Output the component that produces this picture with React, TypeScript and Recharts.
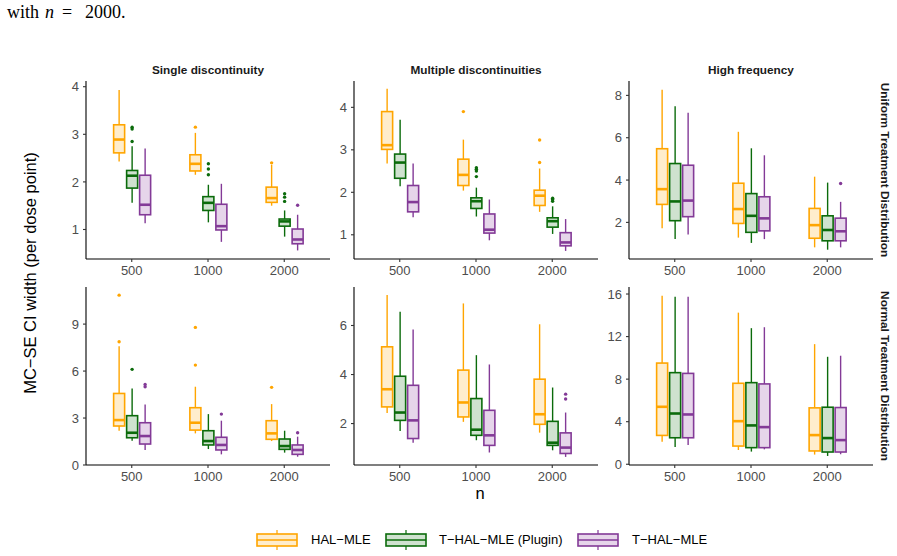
import React from 'react';
import { ComposedChart, Bar, XAxis, YAxis } from 'recharts';

// ---------- data ----------
const nLabels = ['500', '1000', '2000'];
const methodNames = ['HAL\u2212MLE', 'T\u2212HAL\u2212MLE (Plugin)', 'T\u2212HAL\u2212MLE'];
const facetTitles = ['Single discontinuity', 'Multiple discontinuities', 'High frequency'];
const rowTitles = ['Uniform Treatment Distribution', 'Normal Treatment Distribution'];

// each box: [lower whisker, q1, median, q3, upper whisker], per n
const singleUniformHAL = [[2.43, 2.61, 2.89, 3.2, 3.93], [2.15, 2.23, 2.38, 2.57, 3.03], [1.5, 1.57, 1.66, 1.89, 2.36]];
const singleUniformTP = [[1.56, 1.87, 2.13, 2.24, 2.75], [1.15, 1.4, 1.56, 1.69, 1.94], [0.85, 1.07, 1.17, 1.22, 1.4]];
const singleUniformT = [[1.13, 1.31, 1.52, 2.14, 2.7], [0.74, 0.99, 1.07, 1.53, 1.96], [0.56, 0.7, 0.79, 1.01, 1.31]];
const singleUniformHALOut = [[], [3.15], [2.4]];
const singleUniformTPOut = [[2.85, 3.11, 3.15], [2.15, 2.27, 2.38], [1.59, 1.68, 1.75]];
const singleUniformTOut = [[], [], [1.51]];

const multiUniformHAL = [[2.68, 3.01, 3.11, 3.9, 4.44], [2.04, 2.16, 2.41, 2.78, 3.24], [1.54, 1.69, 1.92, 2.05, 2.56]];
const multiUniformTP = [[2.14, 2.33, 2.7, 2.9, 3.71], [1.43, 1.62, 1.79, 1.87, 2.11], [1.02, 1.18, 1.32, 1.4, 1.67]];
const multiUniformT = [[1.41, 1.54, 1.77, 2.16, 2.68], [0.87, 1.04, 1.12, 1.49, 1.83], [0.62, 0.74, 0.82, 1.05, 1.37]];
const multiUniformHALOut = [[], [3.9], [2.7, 3.23]];
const multiUniformTPOut = [[], [2.37, 2.5, 2.54, 2.58], [1.79, 1.83, 1.86]];
const multiUniformTOut = [[], [], []];

const highUniformHAL = [[1.72, 2.85, 3.57, 5.48, 8.27], [1.28, 1.95, 2.63, 3.85, 6.28], [0.82, 1.25, 1.87, 2.66, 4.16]];
const highUniformTP = [[1.21, 2.08, 2.99, 4.78, 7.49], [1.03, 1.53, 2.31, 3.36, 5.5], [0.71, 1.13, 1.64, 2.31, 3.88]];
const highUniformT = [[1.43, 2.27, 3.03, 4.7, 7.18], [1.21, 1.6, 2.19, 3.21, 5.17], [0.82, 1.13, 1.58, 2.2, 2.97]];
const highUniformHALOut = [[], [], []];
const highUniformTPOut = [[], [], []];
const highUniformTOut = [[], [], [3.84]];

const singleNormalHAL = [[2.19, 2.49, 2.87, 4.57, 7.59], [2.02, 2.23, 2.7, 3.66, 5.0], [1.53, 1.64, 2.02, 2.83, 3.89]];
const singleNormalTP = [[1.55, 1.74, 2.06, 3.15, 4.89], [1.02, 1.28, 1.53, 2.19, 3.25], [0.79, 1.0, 1.21, 1.66, 2.19]];
const singleNormalT = [[0.96, 1.34, 1.85, 2.7, 3.87], [0.68, 0.96, 1.28, 1.77, 2.83], [0.53, 0.68, 0.96, 1.28, 1.81]];
const singleNormalHALOut = [[7.87, 10.85], [6.38, 8.79], [4.96]];
const singleNormalTPOut = [[6.11], [], []];
const singleNormalTOut = [[5.0, 5.15], [3.25], [2.06]];

const multiNormalHAL = [[2.43, 2.68, 3.4, 5.13, 7.24], [2.07, 2.27, 2.86, 4.18, 6.9], [1.63, 1.97, 2.38, 3.81, 6.05]];
const multiNormalTP = [[1.7, 2.13, 2.45, 3.93, 6.56], [1.32, 1.52, 1.75, 3.02, 4.79], [0.91, 1.11, 1.22, 2.09, 3.47]];
const multiNormalT = [[1.22, 1.39, 2.13, 3.56, 5.84], [0.82, 1.11, 1.52, 2.54, 4.41], [0.64, 0.78, 1.02, 1.62, 2.45]];
const multiNormalHALOut = [[], [], []];
const multiNormalTPOut = [[], [], []];
const multiNormalTOut = [[], [], [3.0, 3.2]];

const highNormalHAL = [[2.12, 2.71, 5.4, 9.51, 15.84], [1.34, 1.71, 4.05, 7.61, 14.25], [0.91, 1.25, 2.74, 5.3, 11.29]];
const highNormalTP = [[1.62, 2.49, 4.77, 8.61, 15.75], [1.19, 1.56, 3.65, 7.67, 12.79], [0.78, 1.15, 2.46, 5.36, 10.1]];
const highNormalT = [[1.81, 2.49, 4.68, 8.54, 15.75], [1.4, 1.56, 3.49, 7.55, 12.88], [0.94, 1.15, 2.27, 5.33, 10.2]];
const highNormalHALOut = [[], [], []];
const highNormalTPOut = [[], [], []];
const highNormalTOut = [[], [], []];

const yTicks = [
  [[1, 2, 3, 4], [1, 2, 3, 4], [2, 4, 6, 8]],
  [[0, 3, 6, 9], [2, 4, 6], [0, 4, 8, 12, 16]],
];
const yDomains = [
  [[0.38, 4.12], [0.43, 4.62], [0.27, 8.68]],
  [[0.0, 11.37], [0.31, 7.57], [-0.07, 16.66]],
];

// ---------- style ----------
const strokeColors = ['#FFA500', '#0B6B0B', '#833A97'];
const fillColors = ['#FFEDCC', '#CFE2CF', '#E6D5EA'];
const FONT = '"Liberation Sans", Arial, Helvetica, sans-serif';
const SERIF = '"Liberation Serif", "DejaVu Serif", serif';

const panelLeft = [86, 354, 629];
const panelTop = [81, 287];
const PW = 244;
const PH = 178;

const panelStats = [
  [
    [singleUniformHAL, singleUniformTP, singleUniformT],
    [multiUniformHAL, multiUniformTP, multiUniformT],
    [highUniformHAL, highUniformTP, highUniformT],
  ],
  [
    [singleNormalHAL, singleNormalTP, singleNormalT],
    [multiNormalHAL, multiNormalTP, multiNormalT],
    [highNormalHAL, highNormalTP, highNormalT],
  ],
];
const panelOuts = [
  [
    [singleUniformHALOut, singleUniformTPOut, singleUniformTOut],
    [multiUniformHALOut, multiUniformTPOut, multiUniformTOut],
    [highUniformHALOut, highUniformTPOut, highUniformTOut],
  ],
  [
    [singleNormalHALOut, singleNormalTPOut, singleNormalTOut],
    [multiNormalHALOut, multiNormalTPOut, multiNormalTOut],
    [highNormalHALOut, highNormalTPOut, highNormalTOut],
  ],
];

const makeShape = (m: number) => (props: any) => {
  const { x, y, width, height, payload } = props;
  if (!payload) return null;
  const s: number[] = payload['s' + m];
  const o: number[] = payload['o' + m] || [];
  const top = Math.min(y, y + height);
  const bot = Math.max(y, y + height);
  const span = s[4] - s[0];
  const py = (v: number) => top + ((s[4] - v) / span) * (bot - top);
  const cx = x + width / 2;
  const col = strokeColors[m];
  return (
    <g>
      <line x1={cx} x2={cx} y1={py(s[4])} y2={py(s[3])} stroke={col} strokeWidth={1.4} />
      <line x1={cx} x2={cx} y1={py(s[1])} y2={py(s[0])} stroke={col} strokeWidth={1.4} />
      <rect
        x={x}
        y={py(s[3])}
        width={width}
        height={py(s[1]) - py(s[3])}
        fill={fillColors[m]}
        stroke={col}
        strokeWidth={1.6}
      />
      <line x1={x} x2={x + width} y1={py(s[2])} y2={py(s[2])} stroke={col} strokeWidth={2.6} />
      {o.map((v, i) => (
        <circle key={i} cx={cx} cy={py(v)} r={1.7} fill={col} />
      ))}
    </g>
  );
};

const shapes = [makeShape(0), makeShape(1), makeShape(2)];

function Panel({ r, c }: { r: number; c: number }) {
  const stats = panelStats[r][c];
  const outs = panelOuts[r][c];
  const rows = nLabels.map((n, i) => ({
    n,
    s0: stats[0][i],
    s1: stats[1][i],
    s2: stats[2][i],
    o0: outs[0][i],
    o1: outs[1][i],
    o2: outs[2][i],
  }));
  const YW = 44;
  const MT = 6;
  const MR = 6;
  const XH = 24;
  const pad = PW * 0.03125;
  return (
    <div style={{ position: 'absolute', left: panelLeft[c] - YW, top: panelTop[r] - MT }}>
      <ComposedChart
        width={YW + PW + MR}
        height={MT + PH + XH}
        data={rows}
        margin={{ top: MT, right: MR, bottom: 0, left: 0 }}
        barGap={2}
      >
        <XAxis
          dataKey="n"
          type="category"
          height={XH}
          padding={{ left: pad, right: pad }}
          tickSize={3}
          tickMargin={4}
          axisLine={{ stroke: '#000', strokeWidth: 1.1 }}
          tickLine={{ stroke: '#333', strokeWidth: 1.1 }}
          tick={{ fill: '#4D4D4D', fontSize: 13, fontFamily: FONT }}
          interval={0}
        />
        <YAxis
          type="number"
          width={YW}
          domain={yDomains[r][c]}
          ticks={yTicks[r][c]}
          allowDataOverflow
          tickSize={3}
          tickMargin={4}
          axisLine={{ stroke: '#000', strokeWidth: 1.1 }}
          tickLine={{ stroke: '#333', strokeWidth: 1.1 }}
          tick={{ fill: '#4D4D4D', fontSize: 13, fontFamily: FONT }}
        />
        {[0, 1, 2].map((m) => (
          <Bar
            key={m}
            dataKey={(d: any) => [d['s' + m][0], d['s' + m][4]]}
            barSize={11}
            fill={fillColors[m]}
            shape={shapes[m]}
            isAnimationActive={false}
          />
        ))}
      </ComposedChart>
    </div>
  );
}

function LegendKey({ m }: { m: number }) {
  const col = strokeColors[m];
  return (
    <svg width={42} height={22} style={{ display: 'block' }}>
      <line x1={21} x2={21} y1={1} y2={5} stroke={col} strokeWidth={1.2} />
      <line x1={21} x2={21} y1={17} y2={21} stroke={col} strokeWidth={1.2} />
      <rect x={1} y={5} width={40} height={12} fill={fillColors[m]} stroke={col} strokeWidth={1.6} />
      <line x1={1} x2={41} y1={11} y2={11} stroke={col} strokeWidth={1.6} />
    </svg>
  );
}

const legendKeyX = [256, 385, 577];
const legendTextX = [311, 439, 632];

const captionStyle: React.CSSProperties = {
  position: 'absolute',
  top: 3,
  fontFamily: SERIF,
  fontSize: 18,
  lineHeight: '18px',
  color: '#000',
  whiteSpace: 'nowrap',
};

export default function App() {
  return (
    <div
      style={{
        position: 'absolute',
        left: 0,
        top: 0,
        width: 897,
        height: 556,
        background: '#fff',
        overflow: 'hidden',
        fontFamily: FONT,
      }}
    >
      <span style={{ ...captionStyle, left: 7 }}>with</span>
      <span style={{ ...captionStyle, left: 45, fontStyle: 'italic' }}>n</span>
      <span style={{ ...captionStyle, left: 62 }}>=</span>
      <span style={{ ...captionStyle, left: 85 }}>2000.</span>

      {[0, 1].map((r) => [0, 1, 2].map((c) => <Panel key={r + '-' + c} r={r} c={c} />))}

      {facetTitles.map((t, c) => (
        <div
          key={t}
          style={{
            position: 'absolute',
            left: panelLeft[c],
            width: PW,
            top: 62,
            lineHeight: '16px',
            textAlign: 'center',
            fontSize: 11.8,
            fontWeight: 'bold',
            color: '#1A1A1A',
            whiteSpace: 'nowrap',
          }}
        >
          {t}
        </div>
      ))}

      {rowTitles.map((t, r) => (
        <div
          key={t}
          style={{
            position: 'absolute',
            left: 885 - 100,
            top: panelTop[r] + PH / 2 - 8,
            width: 200,
            height: 16,
            lineHeight: '16px',
            textAlign: 'center',
            fontSize: 11.8,
            fontWeight: 'bold',
            color: '#1A1A1A',
            transform: 'rotate(90deg)',
            whiteSpace: 'nowrap',
          }}
        >
          {t}
        </div>
      ))}

      <div
        style={{
          position: 'absolute',
          left: 30 - 150,
          top: 273 - 10,
          width: 300,
          height: 20,
          lineHeight: '20px',
          textAlign: 'center',
          fontSize: 16.5,
          color: '#000',
          transform: 'rotate(-90deg)',
          whiteSpace: 'nowrap',
        }}
      >
        MC{'\u2212'}SE CI width (per dose point)
      </div>

      <div
        style={{
          position: 'absolute',
          left: 470,
          width: 20,
          top: 484,
          lineHeight: '18px',
          textAlign: 'center',
          fontSize: 16.5,
          color: '#000',
        }}
      >
        n
      </div>

      {methodNames.map((name, m) => (
        <React.Fragment key={name}>
          <div style={{ position: 'absolute', left: legendKeyX[m], top: 529 }}>
            <LegendKey m={m} />
          </div>
          <div
            style={{
              position: 'absolute',
              left: legendTextX[m],
              top: 532,
              fontSize: 13,
              lineHeight: '16px',
              color: '#000',
              whiteSpace: 'nowrap',
            }}
          >
            {name}
          </div>
        </React.Fragment>
      ))}
    </div>
  );
}
